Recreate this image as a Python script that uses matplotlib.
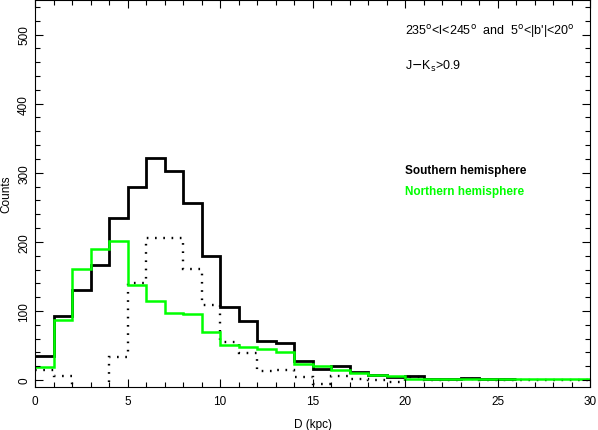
import numpy as np
import matplotlib
matplotlib.use("Agg")
import matplotlib.pyplot as plt
from matplotlib.ticker import MultipleLocator

# distance bins (kpc), 1 kpc wide
edges = np.arange(0, 31, 1)

# counts
south = [35, 93, 130, 166, 235, 279, 322, 302, 256, 180, 106, 86, 57, 54, 27,
         16, 21, 11, 8, 5, 6, 2, 2, 3, 1, 1]
north = [19, 87, 161, 190, 201, 137, 115, 97, 95, 70, 51, 48, 45, 40, 23,
         20, 14, 10, 7, 6, 2, 2, 2, 2, 2, 2, 1, 1, 1, 1]
diff = [14, 6, -30, -24, 34, 141, 206, 206, 161, 109, 55, 39, 13, 14, 4,
        -5, 6, 1.5, 0.5, -2.5, 4, 0, 0, 1, 0, 0, 0, 0, 0, 0]

plt.rcParams["font.family"] = ["Liberation Sans", "DejaVu Sans"]
plt.rcParams["font.size"] = 8.5

fig = plt.figure(figsize=(5.98, 4.31), dpi=100)
ax = fig.add_axes([35 / 598, 43 / 431, 555 / 598, 387 / 431])

ax.stairs(diff, edges, baseline=None, color="black", lw=1.7,
          linestyle=(0, (0.7, 2.8)))
ax.stairs(south, edges[:len(south) + 1], baseline=None, color="black", lw=2.0)
ax.stairs(north, edges, baseline=None, color="#00ff00", lw=1.8)

ax.set_xlim(0, 30)
ax.set_ylim(-10, 550)
ax.xaxis.set_major_locator(MultipleLocator(5))
ax.xaxis.set_minor_locator(MultipleLocator(1))
ax.yaxis.set_major_locator(MultipleLocator(100))
ax.yaxis.set_minor_locator(MultipleLocator(20))
ax.tick_params(which="both", direction="in", top=True, right=True, width=0.8)
ax.tick_params(which="major", length=6)
ax.tick_params(which="minor", length=3.5)
ax.tick_params(axis="x", pad=6)
for lab in ax.get_yticklabels():
    lab.set_rotation(90)
    lab.set_va("center")
for sp in ax.spines.values():
    sp.set_linewidth(0.8)

ax.set_xlabel("D (kpc)", labelpad=8)
ax.set_ylabel("Counts", va="center")
ax.yaxis.set_label_coords(-0.052, 0.5)

tx = 0.667
ax.text(tx, 0.92, "235$^\\mathrm{o}$<l<245$^\\mathrm{o}$  and  5$^\\mathrm{o}$<|b'|<20$^\\mathrm{o}$",
        transform=ax.transAxes, va="center", fontsize=9)
ax.text(tx, 0.83, "J$-$K$_\\mathrm{s}$>0.9", transform=ax.transAxes, va="center",
        fontsize=9)
ax.text(tx, 0.561, "Southern hemisphere", transform=ax.transAxes,
        va="center", fontweight="bold", color="black")
ax.text(tx, 0.507, "Northern hemisphere", transform=ax.transAxes,
        va="center", fontweight="bold", color="#00ff00")

fig.savefig("out.png", dpi=100)
